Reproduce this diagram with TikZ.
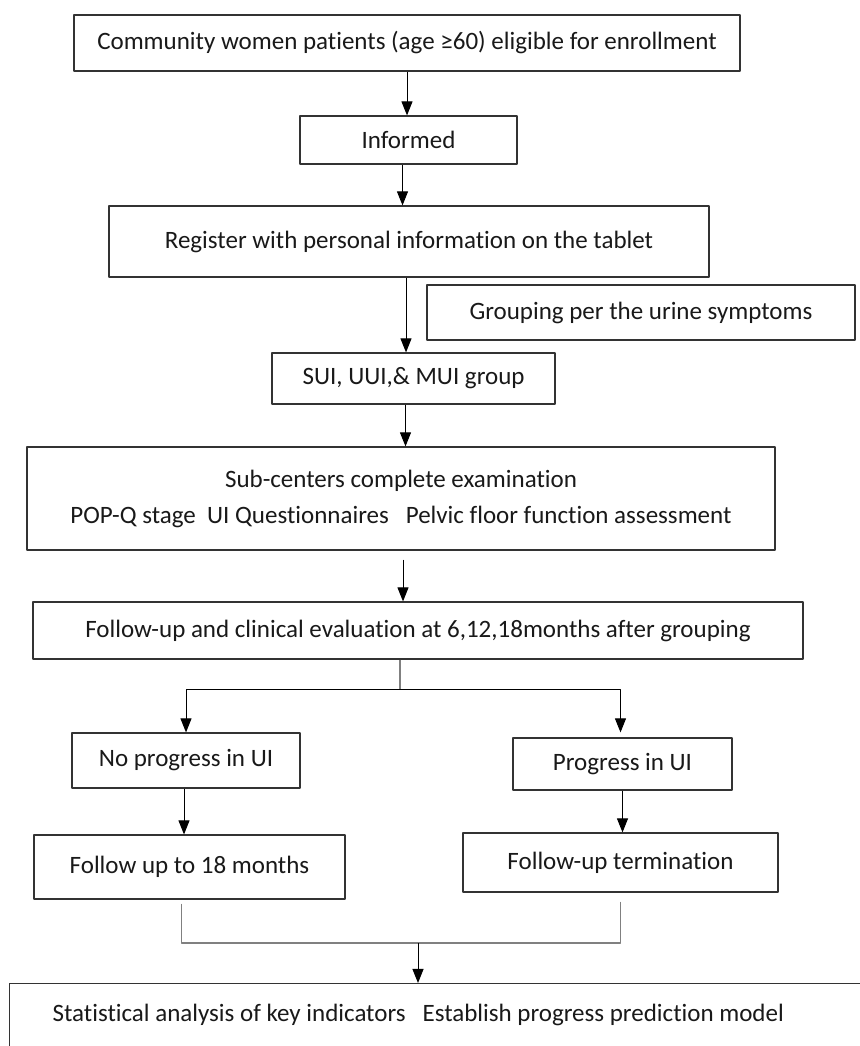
\documentclass[tikz,border=0pt]{standalone}
\usepackage{fontspec}
\setmainfont{Carlito}[RawFeature={-liga}]
\usepackage{tikz}
\usetikzlibrary{arrows.meta}
\usetikzlibrary{positioning}
\tikzset{procbox/.style={draw=black!80, line width=1.2bp, inner sep=0pt, text=black!90, font=\fontsize{25bp}{30bp}\selectfont}}
\tikzset{flow/.style={line width=1bp, -{Triangle[width=11bp,length=14bp]}}}
\tikzset{joinline/.style={line width=1.1bp, draw=black!50}}

\begin{document}
\begin{tikzpicture}[line join=bevel]
%%
\useasboundingbox (0bp,0bp) rectangle (860bp,1046bp);
\fill[white] (0bp,0bp) rectangle (860bp,1046bp);
  \node (enrol) at (407.0bp,1003.0bp) [procbox,minimum width=666bp,minimum height=56bp] {Community women patients (age ≥60) eligible for enrollment};
  \node (informed) at (408.5bp,906.0bp) [procbox,minimum width=217bp,minimum height=48bp] {Informed};
  \node (register) at (409.0bp,804.5bp) [procbox,minimum width=600bp,minimum height=71bp] {Register with personal information on the tablet};
  \node (grouping) at (641.0bp,733.5bp) [procbox,minimum width=428bp,minimum height=55bp] {Grouping per the urine symptoms};
  \node (uigroup) at (413.5bp,667.5bp) [procbox,minimum width=283bp,minimum height=51bp] {SUI, UUI,\& MUI group};
  \node (subcenter) at (401.0bp,547.5bp) [procbox,minimum width=748bp,minimum height=103bp,align=center] {Sub-centers complete examination\\[6bp] POP-Q stage\ \ UI Questionnaires\ \ \ Pelvic floor function assessment};
  \node (followup) at (418.0bp,415.5bp) [procbox,minimum width=770bp,minimum height=57bp] {Follow-up and clinical evaluation at 6,12,18months after grouping};
  \node (noprog) at (186.0bp,285.5bp) [procbox,minimum width=228bp,minimum height=55bp] {No progress in UI};
  \node (prog) at (622.5bp,282.0bp) [procbox,minimum width=219bp,minimum height=52bp] {Progress in UI};
  \node (upto18) at (189.5bp,179.0bp) [procbox,minimum width=311bp,minimum height=64bp] {Follow up to 18 months};
  \node (stopfu) at (620.5bp,183.5bp) [procbox,minimum width=315bp,minimum height=59bp] {Follow-up termination};
  \node (analysis) at (9.0bp,63.0bp) [procbox,anchor=north west,inner xsep=43bp,text height=38bp,text depth=50bp] {\makebox[830bp][l]{Statistical analysis of key indicators\ \ \ Establish progress prediction model}};
  \coordinate (split) at (400.0bp,356.0bp);
  \coordinate (merge) at (418.0bp,103.0bp);
%
  \draw [flow] (enrol.south) -- (enrol.south |- informed.north);
  \draw [flow] ([xshift=-6bp]informed.south) -- ([xshift=-6bp]informed.south |- register.north);
  \draw [flow] ([xshift=-3bp]register.south) -- ([xshift=-3bp]register.south |- uigroup.north);
  \draw [flow] ([xshift=-8bp]uigroup.south) -- ([xshift=-8bp]uigroup.south |- subcenter.north);
  \draw [flow] ([xshift=2bp,yshift=-9bp]subcenter.south) -- ([xshift=2bp]subcenter.south |- followup.north);
  \draw [joinline] (followup.south -| split) -- (split);
  \draw [flow] (split) -| (noprog.north);
  \draw [flow] (split) -| ([xshift=-2bp,yshift=5bp]prog.north);
  \draw [flow] ([xshift=-2bp]noprog.south) -- ([xshift=-2bp]noprog.south |- upto18.north);
  \draw [flow] (prog.south) -- (prog.south |- stopfu.north);
  \draw [joinline] ([xshift=-8bp,yshift=-4bp]upto18.south) |- (merge);
  \draw [joinline] ([yshift=-9bp]stopfu.south) |- (merge);
  \draw [flow] (merge) -- (merge |- analysis.north);
%
\end{tikzpicture}
\end{document}
